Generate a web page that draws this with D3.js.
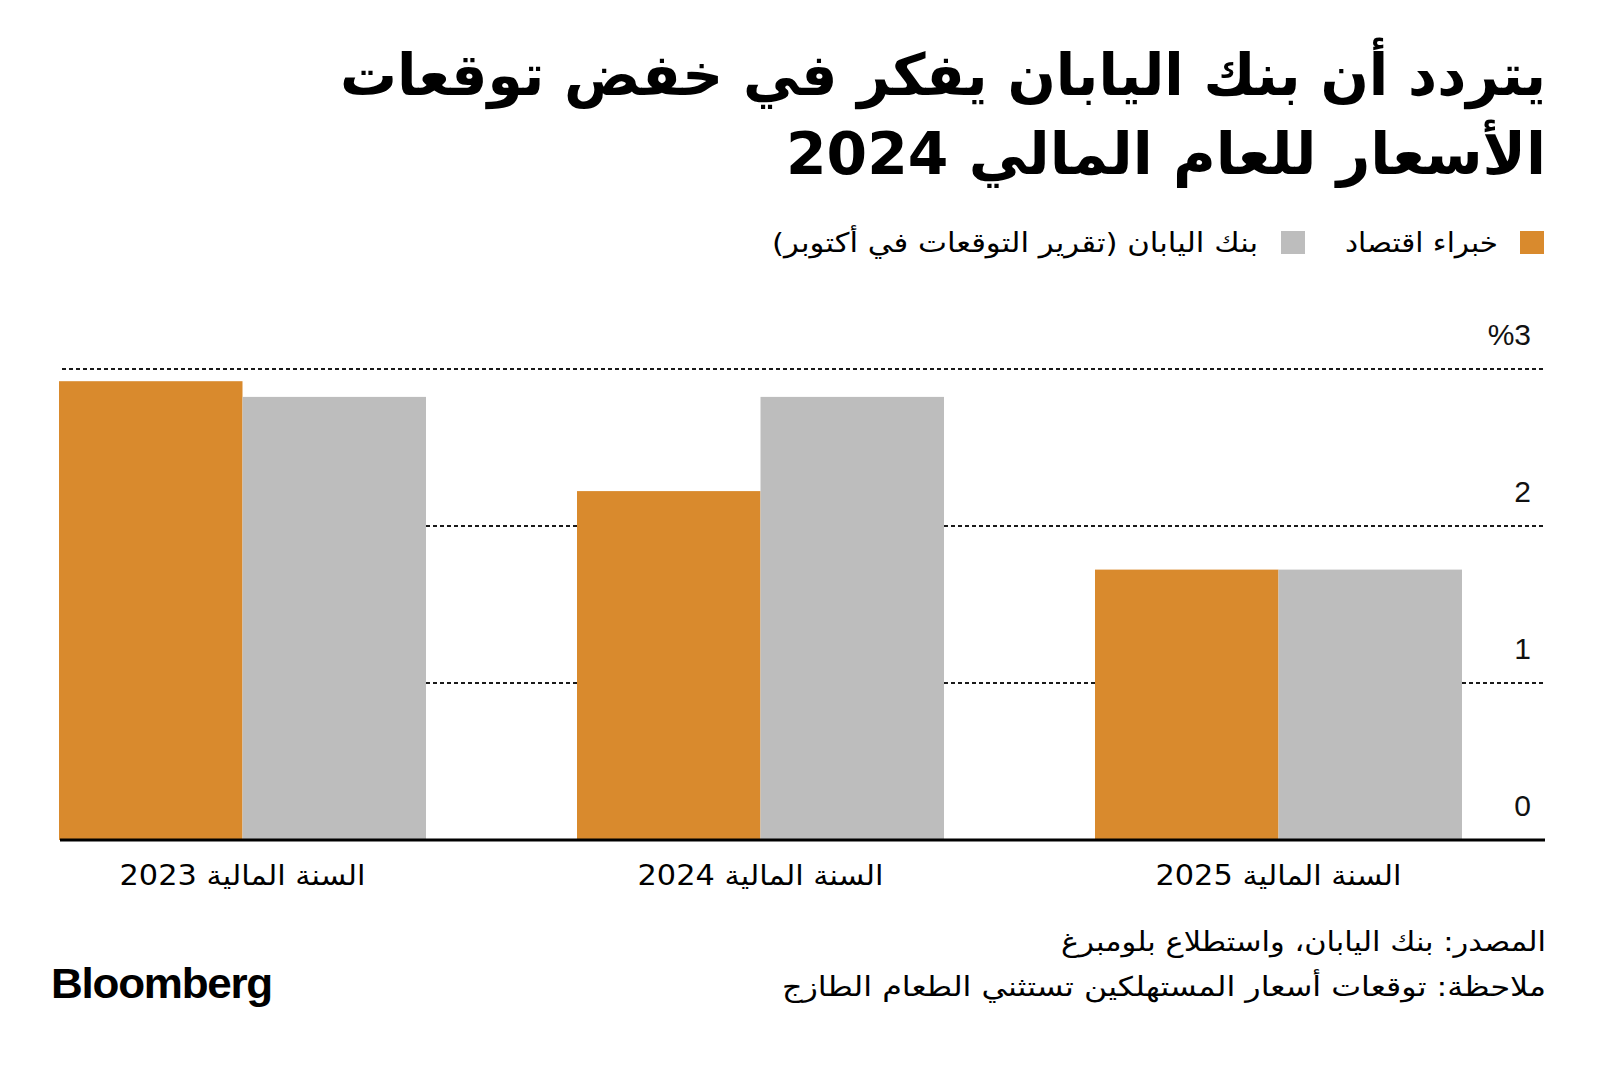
<!DOCTYPE html>
<html><head><meta charset="utf-8">
<script src="https://cdn.jsdelivr.net/npm/d3@7"></script>
<style>
html,body{margin:0;padding:0;background:#fff;}
svg{display:block;}
</style></head>
<body>
<svg id="chart" width="1600" height="1065"></svg>
<script>
// ---- data ----
const categories = ["السنة المالية 2023", "السنة المالية 2024", "السنة المالية 2025"];
const seriesNames = ["خبراء اقتصاد", "بنك اليابان (تقرير التوقعات في أكتوبر)"];
const economists = [2.9, 2.2, 1.7];
const boj = [2.8, 2.8, 1.7];
const yTicks = [0, 1, 2, 3];
const yTickLabels = ["0", "1", "2", "%3"];
const titleLines = ["يتردد أن بنك اليابان يفكر في خفض توقعات", "الأسعار للعام المالي 2024"];
const footLines = ["المصدر: بنك اليابان، واستطلاع بلومبرغ", "ملاحظة: توقعات أسعار المستهلكين تستثني الطعام الطازج"];

const colors = ["#D98A2D", "#BDBDBD"];
const arFont = "'DejaVu Sans', sans-serif";
const latFont = "'Liberation Sans', Arial, sans-serif";

const svg = d3.select("#chart");

// Arabic text helper: right edge, width fitted
function arText(g, txt, right, width, y, size, weight) {
  return g.append("text")
    .attr("x", right - width / 2)
    .attr("y", y)
    .attr("text-anchor", "middle")
    .attr("direction", "rtl")
    .attr("font-family", arFont)
    .attr("font-size", size)
    .attr("font-weight", weight || "normal")
    .attr("fill", "#000")
    .attr("textLength", width)
    .attr("lengthAdjust", "spacingAndGlyphs")
    .text(txt);
}

// ---- title ----
const titleWidths = [1206, 760];
const titleBase = [95, 174];
titleLines.forEach((t, i) => arText(svg, t, 1546, titleWidths[i], titleBase[i], 58, "bold"));

// ---- legend ----
const leg = svg.append("g");
const legSq = [1520, 1281];
const legTextRight = [1498, 1258];
const legTextW = [153, 486];
seriesNames.forEach((s, i) => {
  leg.append("rect").attr("x", legSq[i]).attr("y", 231).attr("width", 24).attr("height", 23).attr("fill", colors[i]);
  arText(leg, s, legTextRight[i], legTextW[i], 252, 27, "normal");
});

// ---- scales ----
const x0 = d3.scaleBand().domain(categories).range([59, 1462]).paddingInner(0.2915).paddingOuter(0);
const x1 = d3.scaleBand().domain([0, 1]).range([0, x0.bandwidth()]).padding(0);
const y = d3.scaleLinear().domain([0, 3]).range([836.5, 365.5]);
const gridOffset = 3.5;

// ---- gridlines (behind bars) ----
const grid = svg.append("g");
grid.selectAll("line").data(yTicks.filter(d => d > 0)).join("line")
  .attr("x1", 62).attr("x2", 1543)
  .attr("y1", d => y(d) + gridOffset).attr("y2", d => y(d) + gridOffset)
  .attr("stroke", "#1a1a1a").attr("stroke-width", 2.2)
  .attr("stroke-dasharray", "4,3");

// ---- bars ----
const series = [economists, boj];
const bars = svg.append("g");
categories.forEach((c, ci) => {
  series.forEach((vals, si) => {
    bars.append("rect")
      .attr("x", x0(c) + x1(si))
      .attr("y", y(vals[ci]))
      .attr("width", x1.bandwidth())
      .attr("height", y(0) + gridOffset - y(vals[ci]))
      .attr("fill", colors[si]);
  });
});

// ---- baseline ----
svg.append("line").attr("x1", 60).attr("x2", 1545)
  .attr("y1", y(0) + gridOffset).attr("y2", y(0) + gridOffset)
  .attr("stroke", "#000").attr("stroke-width", 3);

// ---- y tick labels ----
svg.append("g").selectAll("text").data(yTicks).join("text")
  .attr("x", 1531).attr("y", d => y(d) + gridOffset - 24)
  .attr("text-anchor", "end")
  .attr("font-family", latFont).attr("font-size", 30).attr("fill", "#111")
  .text((d, i) => yTickLabels[i]);

// ---- x labels ----
const xl = svg.append("g");
categories.forEach(c => {
  const cx = x0(c) + x0.bandwidth() / 2;
  arText(xl, c, cx + 123, 246, 885, 28, "normal");
});

// ---- footer ----
const footW = [485, 764];
const footBase = [951, 996];
footLines.forEach((t, i) => arText(svg, t, 1546, footW[i], footBase[i], 27, "normal"));

// ---- logo ----
svg.append("text").attr("x", 51).attr("y", 998)
  .attr("font-family", latFont).attr("font-weight", "bold")
  .attr("font-size", 42).attr("letter-spacing", -1.2)
  .attr("textLength", 221).attr("lengthAdjust", "spacingAndGlyphs")
  .attr("fill", "#000").text("Bloomberg");
</script>
</body></html>
